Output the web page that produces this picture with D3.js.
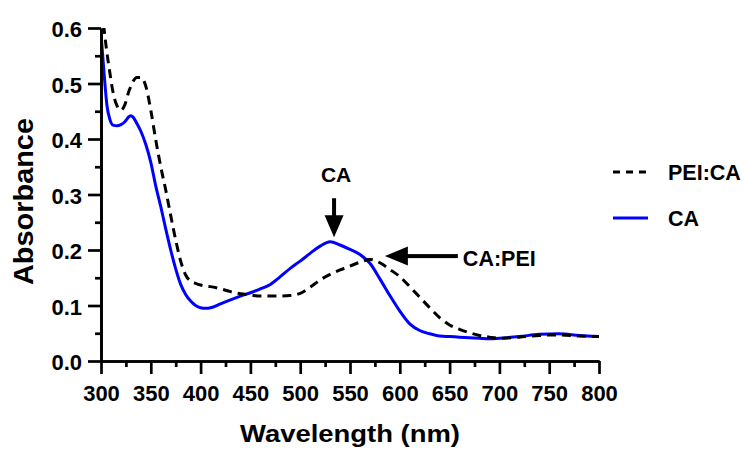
<!DOCTYPE html>
<html>
<head>
<meta charset="utf-8">
<script src="https://cdn.jsdelivr.net/npm/d3@7"></script>
<style>
  body { margin: 0; background: #fff; }
  svg { display: block; }
  text { font-family: "Liberation Sans", Arial, sans-serif; font-weight: bold; fill: #000; }
</style>
</head>
<body>
<div class="chart-div"></div>
<script>
var width = 745;
var height = 450;
var margin = {top: 28, right: 146, bottom: 89, left: 101};
var plotW = width - margin.left - margin.right;
var plotH = height - margin.top - margin.bottom;

// wavelength (nm) shared by both spectra
var wavelength = [300, 303, 306, 309, 312, 316, 320, 324, 328, 330, 332, 336, 340, 345, 350, 355, 360, 365, 370, 375,
  380, 385, 390, 395, 400, 405, 410, 420, 430, 440, 450, 460, 470, 480, 490, 500, 510, 520, 530, 540,
  550, 560, 570, 580, 590, 600, 610, 620, 630, 640, 650, 660, 670, 680, 690, 700, 720, 740, 760, 780, 800];
// CA (blue solid)
var absCA = [0.590, 0.520, 0.460, 0.435, 0.425, 0.424, 0.426, 0.431, 0.440, 0.442, 0.440, 0.428, 0.414, 0.390, 0.358, 0.315, 0.278, 0.238, 0.200, 0.166,
  0.138, 0.120, 0.108, 0.100, 0.096, 0.095, 0.096, 0.103, 0.110, 0.117, 0.123, 0.130, 0.138, 0.152, 0.167, 0.180, 0.194, 0.207, 0.215, 0.209,
  0.201, 0.192, 0.176, 0.148, 0.118, 0.090, 0.067, 0.055, 0.049, 0.045, 0.044, 0.043, 0.042, 0.041, 0.040, 0.041, 0.044, 0.048, 0.049, 0.046, 0.044];
// PEI:CA (black dashed)
var absPEICA = [0.660, 0.600, 0.555, 0.518, 0.485, 0.460, 0.452, 0.462, 0.486, 0.495, 0.503, 0.511, 0.511, 0.495, 0.452, 0.398, 0.350, 0.308, 0.262, 0.218,
  0.180, 0.155, 0.144, 0.140, 0.137, 0.135, 0.134, 0.130, 0.125, 0.121, 0.119, 0.117, 0.117, 0.117, 0.118, 0.122, 0.133, 0.146, 0.156, 0.164,
  0.171, 0.178, 0.183, 0.177, 0.165, 0.152, 0.134, 0.115, 0.096, 0.078, 0.065, 0.057, 0.051, 0.046, 0.043, 0.041, 0.043, 0.046, 0.047, 0.045, 0.044];

var xTicks = [300, 350, 400, 450, 500, 550, 600, 650, 700, 750, 800];
var xMinor = [325, 375, 425, 475, 525, 575, 625, 675, 725, 775];
var yTicks = [0, 0.1, 0.2, 0.3, 0.4, 0.5, 0.6];
var yMinor = [0.05, 0.15, 0.25, 0.35, 0.45, 0.55];

var seriesNames = ["PEI:CA", "CA"];
var seriesColors = ["#000000", "#0000ff"];
var seriesDash = ["9,6", null];
var legendDash = ["7,6", null];

// arrow annotations, anchored at the arrow tip (data units)
var annotLabels = ["CA", "CA:PEI"];
var annotX = [534, 585];
var annotY = [0.223, 0.189];
var annotDir = ["down", "left"];

var svg = d3.select(".chart-div").append("svg")
    .attr("width", width)
    .attr("height", height);
var chart = svg.append("g")
    .attr("transform", "translate(" + margin.left + "," + margin.top + ")");

var x = d3.scaleLinear().domain([300, 800]).range([0, plotW]);
var y = d3.scaleLinear().domain([0, 0.6]).range([plotH, 0]);

chart.append("clipPath").attr("id", "plot-clip")
  .append("rect").attr("x", 0).attr("y", 0).attr("width", plotW).attr("height", plotH);

// curves: blue first so dashed sits on top
var series = [
  {name: "CA", values: absCA, color: seriesColors[1], dash: seriesDash[1]},
  {name: "PEI:CA", values: absPEICA, color: seriesColors[0], dash: seriesDash[0]}
];
var line = d3.line()
    .x(function(d) { return x(d[0]); })
    .y(function(d) { return y(d[1]); })
    .curve(d3.curveMonotoneX);
series.forEach(function(s) {
  chart.append("path")
      .datum(d3.zip(wavelength, s.values))
      .attr("clip-path", "url(#plot-clip)")
      .attr("fill", "none")
      .attr("stroke", s.color)
      .attr("stroke-width", 3)
      .attr("stroke-dasharray", s.dash)
      .attr("d", line);
});

// axes
var xAxis = chart.append("g")
    .attr("transform", "translate(0," + plotH + ")")
    .call(d3.axisBottom(x).tickValues(xTicks).tickSize(13).tickSizeOuter(0).tickPadding(11));
chart.append("g")
    .attr("transform", "translate(0," + plotH + ")")
    .call(d3.axisBottom(x).tickValues(xMinor).tickSize(6).tickSizeOuter(0).tickFormat(""));
var yAxis = chart.append("g")
    .call(d3.axisLeft(y).tickValues(yTicks).tickSize(13).tickSizeOuter(0).tickPadding(6).tickFormat(d3.format(".1f")));
chart.append("g")
    .call(d3.axisLeft(y).tickValues(yMinor).tickSize(6).tickSizeOuter(0).tickFormat(""));

chart.selectAll(".domain, .tick line")
    .attr("stroke", "#000")
    .attr("stroke-width", 2.7);
chart.selectAll(".tick text")
    .attr("font-size", "22px")
    .attr("font-family", "Liberation Sans, Arial, sans-serif")
    .attr("font-weight", "bold")
    .attr("fill", "#000");
yAxis.selectAll(".tick text").attr("dy", "0.4em");

// axis titles
svg.append("text")
    .attr("x", margin.left + plotW / 2)
    .attr("y", 442)
    .attr("text-anchor", "middle")
    .attr("font-size", "23.5px")
    .attr("textLength", 220)
    .attr("lengthAdjust", "spacingAndGlyphs")
    .text("Wavelength (nm)");
svg.append("text")
    .attr("transform", "translate(33,201.5) rotate(-90)")
    .attr("text-anchor", "middle")
    .attr("font-size", "27.5px")
    .attr("textLength", 167)
    .attr("lengthAdjust", "spacingAndGlyphs")
    .text("Absorbance");

// legend
var legend = svg.append("g").attr("transform", "translate(613,172)");
seriesNames.forEach(function(name, i) {
  legend.append("line")
      .attr("x1", 0).attr("x2", 35)
      .attr("y1", i * 46).attr("y2", i * 46)
      .attr("stroke", seriesColors[i])
      .attr("stroke-width", 3)
      .attr("stroke-dasharray", legendDash[i]);
  legend.append("text")
      .attr("x", 55)
      .attr("y", i * 46 + 8)
      .attr("font-size", "21.5px")
      .text(name);
});

// arrow annotations
annotLabels.forEach(function(label, i) {
  var tx = x(annotX[i]), ty = y(annotY[i]);
  var g = chart.append("g").attr("transform", "translate(" + tx + "," + ty + ")");
  if (annotDir[i] === "down") {
    g.append("rect").attr("x", -2).attr("y", -39).attr("width", 4).attr("height", 19);
    g.append("path").attr("d", "M0,0 L-9.5,-22 L9.5,-22 Z");
    g.append("text")
        .attr("x", 2).attr("y", -55)
        .attr("text-anchor", "middle")
        .attr("font-size", "21px")
        .text(label);
  } else {
    g.append("rect").attr("x", 21).attr("y", -2).attr("width", 52).attr("height", 4);
    g.append("path").attr("d", "M0,0 L23,-9.5 L23,9.5 Z");
    g.append("text")
        .attr("x", 78).attr("y", 10)
        .attr("font-size", "21.5px")
        .text(label);
  }
});
</script>
</body>
</html>
